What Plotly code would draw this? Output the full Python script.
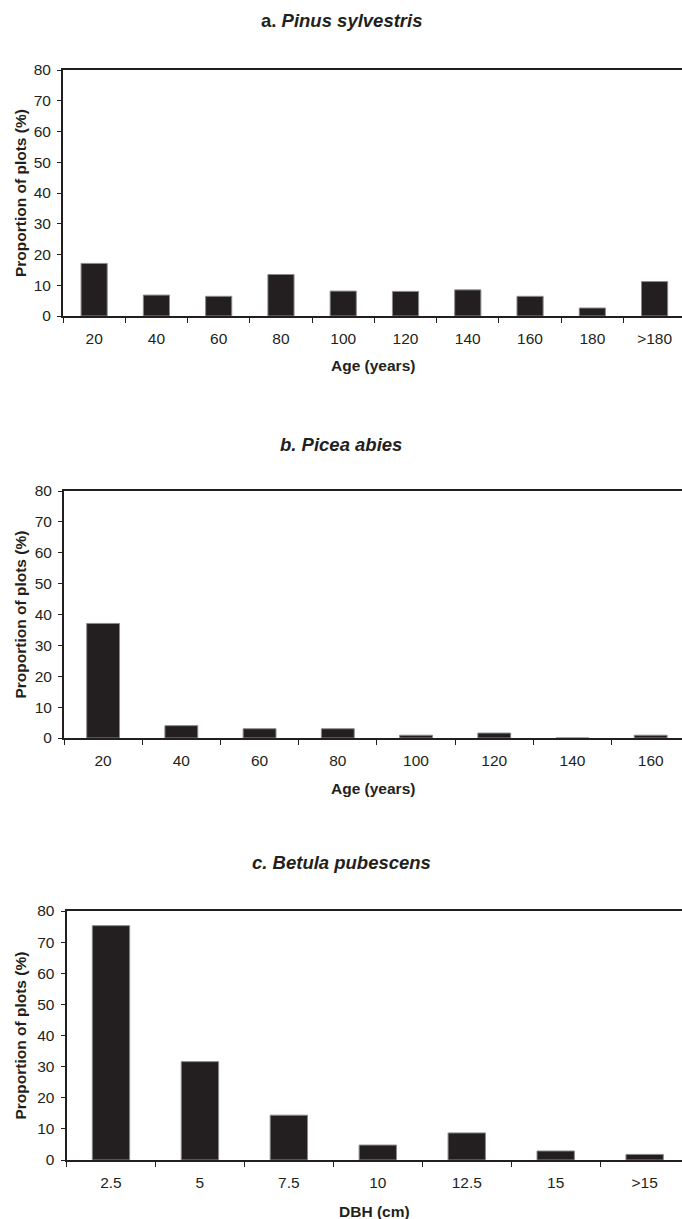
import plotly.graph_objects as go

# Panel a: Pinus sylvestris
age_a = ["20", "40", "60", "80", "100", "120", "140", "160", "180", ">180"]
prop_a = [17.1, 6.8, 6.4, 13.5, 8.1, 8.0, 8.5, 6.4, 2.6, 11.2]

# Panel b: Picea abies
age_b = ["20", "40", "60", "80", "100", "120", "140", "160"]
prop_b = [37.1, 4.0, 3.0, 3.0, 0.9, 1.6, 0.0, 0.9]

# Panel c: Betula pubescens
dbh_c = ["2.5", "5", "7.5", "10", "12.5", "15", ">15"]
prop_c = [75.3, 31.6, 14.4, 4.8, 8.7, 2.9, 1.8]

titles = ["<b>a. <i>Pinus sylvestris</i></b>",
          "<b><i>b. Picea abies</i></b>",
          "<b><i>c. Betula pubescens</i></b>"]
xtitles = ["Age (years)", "Age (years)", "DBH (cm)"]

W, H = 682, 1219
BAR = "#231f20"
INK = "#231f20"
TICKFONT = dict(family="Liberation Sans, Arial", size=15.5, color=INK)
LABFONT = dict(family="Liberation Sans, Arial", size=15.5, color=INK)
TITLEFONT = dict(family="Liberation Sans, Arial", size=18.5, color=INK)

# pixel layout: (categories, values, plot left, plot top, plot bottom, title y, x-title y, x range max)
panels = [
    (age_a, prop_a, 63, 70, 316, 20, 365, 9.44),
    (age_b, prop_b, 64, 491, 738, 444, 788, 7.40),
    (dbh_c, prop_c, 66.5, 911, 1160, 862, 1211, 6.42),
]

fig = go.Figure()
annotations = []
for i, (cats, vals, left_px, top, bot, ty, xty, xmax) in enumerate(panels):
    n = "" if i == 0 else str(i + 1)
    fig.add_trace(go.Bar(
        x=cats, y=vals, width=0.42,
        marker=dict(color=BAR, line=dict(color="#8a8a8a", width=1)),
        xaxis="x" + n, yaxis="y" + n, showlegend=False, hoverinfo="x+y",
    ))
    dom_y = [1 - bot / H, 1 - top / H]
    fig.update_layout(**{
        "xaxis" + n: dict(
            domain=[left_px / W, 1], anchor="y" + n, type="category",
            range=[-0.5, xmax], showline=True, linecolor=INK, linewidth=2,
            mirror=True, ticks="outside", tickson="boundaries", ticklen=5,
            tickcolor=INK, tickwidth=1, showgrid=False, zeroline=False,
            tickfont=TICKFONT, ticklabelstandoff=7, fixedrange=True, automargin=False,
        ),
        "yaxis" + n: dict(
            domain=dom_y, anchor="x" + n, range=[0, 80], dtick=10,
            showline=True, linecolor=INK, linewidth=2, ticks="outside",
            ticklen=4, tickcolor=INK, showgrid=False, zeroline=False,
            tickfont=TICKFONT, ticklabelstandoff=3, fixedrange=True, automargin=False,
        ),
    })
    annotations.append(dict(text=titles[i], x=0.5, y=1 - ty / H, xref="paper", yref="paper",
                            showarrow=False, font=TITLEFONT,
                            xanchor="center", yanchor="middle"))
    annotations.append(dict(text="<b>" + xtitles[i] + "</b>", x=(left_px + W) / 2 / W, y=1 - xty / H,
                            xref="paper", yref="paper", showarrow=False, font=LABFONT,
                            xanchor="center", yanchor="middle"))
    annotations.append(dict(text="<b>Proportion of plots (%)</b>", x=20 / W, y=1 - (top + bot) / 2 / H,
                            xref="paper", yref="paper", showarrow=False, font=LABFONT, textangle=-90,
                            xanchor="center", yanchor="middle"))

fig.update_layout(
    width=W, height=H, margin=dict(l=0, r=0, t=0, b=0, autoexpand=False),
    paper_bgcolor="white", plot_bgcolor="white", annotations=annotations,
)
fig.write_html("out.html", config={"displayModeBar": False},
               post_script="document.body.style.margin='0';document.body.style.overflow='hidden';")
